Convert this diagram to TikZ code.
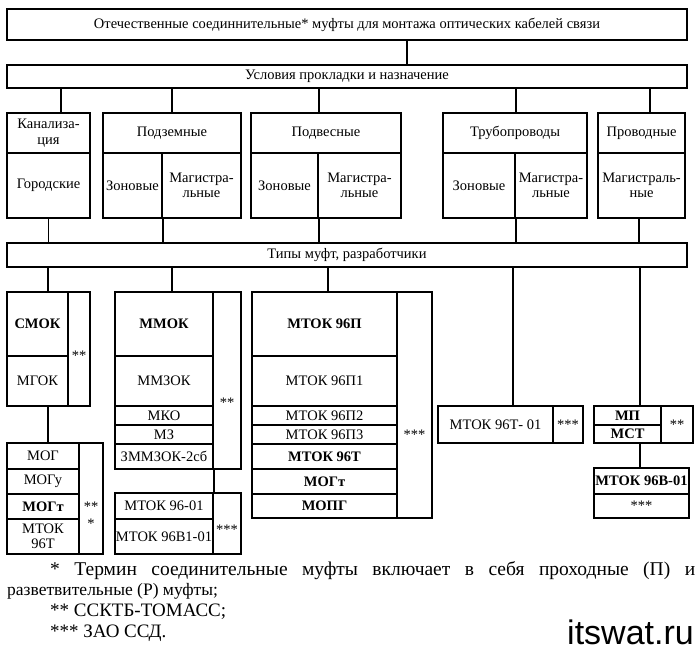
\documentclass[tikz,border=0pt]{standalone}
\usepackage{fontspec}
\setmainfont{Liberation Serif}
\newfontfamily\marksans{Liberation Sans}

\begin{document}
\begin{tikzpicture}[x=1pt, y=-1pt,
    cell/.style={draw, line width=2pt, inner sep=0pt, align=center,
      font=\fontsize{14.5}{15.5}\selectfont},
    stars/.style={inner sep=0pt, align=center, font=\fontsize{14.5}{17}\selectfont},
    link/.style={line width=1.2pt}]
  \useasboundingbox (0,0) rectangle (700,650);

  % top bars
  \node[cell, minimum width=680, minimum height=31] (title) at (347,24.5)
  {Отечественные соединнительные* муфты для монтажа оптических кабелей связи};
  \node[cell, minimum width=680, minimum height=23] (cond) at (347,76.5)
  {Условия прокладки и назначение};
  \draw[link] ([xshift=60]title.south) -- ([xshift=60]title.south |- cond.north);

  % laying conditions
  \node[cell, minimum width=83, minimum height=40] (kanh) at (48.5,133) {Канализа-\\ция};
  \node[cell, minimum width=83, minimum height=65] (kanb) at (48.5,185.5) {Городские};
  \node[cell, minimum width=138, minimum height=40] (podzh) at (172,133) {Подземные};
  \node[cell, minimum width=59, minimum height=65] (podz1) at (132.5,185.5) {Зоновые};
  \node[cell, minimum width=79, minimum height=65] (podz2) at (201.5,185.5) {Магистра-\\льные};
  \node[cell, minimum width=150, minimum height=40] (podvh) at (326,133) {Подвесные};
  \node[cell, minimum width=67, minimum height=65] (podv1) at (284.5,185.5) {Зоновые};
  \node[cell, minimum width=83, minimum height=65] (podv2) at (359.5,185.5) {Магистра-\\льные};
  \node[cell, minimum width=144, minimum height=40] (trubh) at (515,133) {Трубопроводы};
  \node[cell, minimum width=72, minimum height=65] (trub1) at (479,185.5) {Зоновые};
  \node[cell, minimum width=72, minimum height=65] (trub2) at (551,185.5) {Магистра-\\льные};
  \node[cell, minimum width=87, minimum height=40] (provh) at (641.5,133) {Проводные};
  \node[cell, minimum width=87, minimum height=65] (provb) at (641.5,185.5) {Магистраль-\\ные};

  \draw[link] ([xshift=12.5]kanh.north) -- ([xshift=12.5]kanh.north |- cond.south);
  \draw[link] (podzh.north) -- (podzh.north |- cond.south);
  \draw[link] (podv1.east |- podvh.north) -- (podv1.east |- cond.south);
  \draw[link] (trub1.east |- trubh.north) -- (trub1.east |- cond.south);
  \draw[link] ([xshift=8.5]provh.north) -- ([xshift=8.5]provh.north |- cond.south);

  % types bar
  \node[cell, minimum width=680, minimum height=24] (types) at (347,255)
  {Типы муфт, разработчики};
  \draw[link] (kanb.south) -- (kanb.south |- types.north);
  \draw[link] (podz1.south east) -- (podz1.south east |- types.north);
  \draw[link] (podv1.south east) -- (podv1.south east |- types.north);
  \draw[link] (trub1.south east) -- (trub1.south east |- types.north);
  \draw[link] ([xshift=-2.5]provb.south) -- ([xshift=-2.5]provb.south |- types.north);

  % CCKTB groups
  \node[cell, minimum width=61, minimum height=64] (smok) at (37.5,324) {\bfseries СМОК};
  \node[cell, minimum width=61, minimum height=50] (mgok) at (37.5,381) {МГОК};
  \node[cell, minimum width=22, minimum height=114] (st1) at (79,349) {};
  \node[stars] (st1t) at (79,356) {**};

  \node[cell, minimum width=72, minimum height=26] (mog) at (43,456) {МОГ};
  \node[cell, minimum width=72, minimum height=25] (mogu) at (43,481.5) {МОГу};
  \node[cell, minimum width=72, minimum height=25] (mogt) at (43,506.5) {\bfseries МОГт};
  \node[cell, minimum width=72, minimum height=35] (mtokt) at (43,536.5) {МТОК\\96Т};
  \node[cell, minimum width=24, minimum height=111] (st2) at (91,498.5) {};
  \node[stars] (st2t) at (91,515) {**\\*};

  \node[cell, minimum width=98, minimum height=64] (mmok) at (164,324) {\bfseries ММОК};
  \node[cell, minimum width=98, minimum height=50] (mmzok) at (164,381) {ММЗОК};
  \node[cell, minimum width=98, minimum height=19] (mko) at (164,415.5) {МКО};
  \node[cell, minimum width=98, minimum height=19] (mz) at (164,434.5) {МЗ};
  \node[cell, minimum width=98, minimum height=25] (zmmzok) at (164,456.5) {ЗММЗОК-2сб};
  \node[cell, minimum width=28, minimum height=177] (st3) at (227,380.5) {};
  \node[stars] (st3t) at (227,403) {**};

  % SSD groups
  \node[cell, minimum width=98, minimum height=26] (mtok01) at (164,506) {МТОК 96-01};
  \node[cell, minimum width=98, minimum height=35] (mtokb01) at (164,536.5) {МТОК 96В1-01};
  \node[cell, minimum width=28, minimum height=61] (st4) at (227,523.5) {};
  \node[stars] (st4t) at (227,530) {***};

  \node[cell, minimum width=145, minimum height=64] (mtokp) at (324.5,324) {\bfseries МТОК 96П};
  \node[cell, minimum width=145, minimum height=50] (mtokp1) at (324.5,381) {МТОК 96П1};
  \node[cell, minimum width=145, minimum height=19] (mtokp2) at (324.5,415.5) {МТОК 96П2};
  \node[cell, minimum width=145, minimum height=19] (mtokp3) at (324.5,434.5) {МТОК 96П3};
  \node[cell, minimum width=145, minimum height=25] (mtokt2) at (324.5,456.5) {\bfseries МТОК 96Т};
  \node[cell, minimum width=145, minimum height=25] (mogt2) at (324.5,481.5) {\bfseries МОГт};
  \node[cell, minimum width=145, minimum height=24] (mopg) at (324.5,506) {\bfseries МОПГ};
  \node[cell, minimum width=35, minimum height=226] (st5) at (414.5,405) {};
  \node[stars] (st5t) at (414.5,435) {***};

  \node[cell, minimum width=115, minimum height=37] (mtokt01) at (495.5,424.5) {МТОК 96Т- 01};
  \node[cell, minimum width=30, minimum height=37] (st6) at (568,424.5) {***};

  \node[cell, minimum width=67, minimum height=19] (mp) at (627.5,415.5) {\bfseries МП};
  \node[cell, minimum width=67, minimum height=18] (mst) at (627.5,434) {\bfseries МСТ};
  \node[cell, minimum width=32, minimum height=37] (st7) at (677,424.5) {**};
  \node[cell, minimum width=95, minimum height=26] (mtokv01) at (641.5,481) {\bfseries МТОК 96В-01};
  \node[cell, minimum width=95, minimum height=24] (st8) at (641.5,506) {***};

  \draw[link] ([xshift=10.5]smok.north) -- ([xshift=10.5]smok.north |- types.south);
  \draw[link] ([xshift=8]mmok.north) -- ([xshift=8]mmok.north |- types.south);
  \draw[link] ([xshift=3.5]mtokp.north) -- ([xshift=3.5]mtokp.north |- types.south);
  \draw[link] ([xshift=17.5]mtokt01.north) -- ([xshift=17.5]mtokt01.north |- types.south);
  \draw[link] ([xshift=12.5]mp.north) -- ([xshift=12.5]mp.north |- types.south);
  \draw[link] ([xshift=10.5]mgok.south) -- ([xshift=10.5]mgok.south |- mog.north);
  \draw[link] (zmmzok.south east) -- (mtok01.north east);
  \draw[link] ([xshift=12.5]mst.south) -- ([xshift=12.5]mst.south |- mtokv01.north);

  % notes
  \node[inner sep=0pt, anchor=north west, text width=688pt, align=justify,
    font=\fontsize{17.5}{20.7}\selectfont] (notes) at (7,561)
  {{\fontsize{19.5}{20.7}\selectfont\hspace*{43pt}* Термин соединительные муфты включает в себя проходные (П) и\linebreak}
   {\fontsize{17.5}{20.7}\selectfont разветвительные (Р) муфты;}\\
   {\fontsize{19}{20.7}\selectfont\hspace*{43pt}** ССКТБ-ТОМАСС;}\\
   {\fontsize{19}{20.7}\selectfont\hspace*{43pt}*** ЗАО ССД.}};
  \node[inner sep=0pt, anchor=base east, font=\marksans\fontsize{34}{34}\selectfont]
    (site) at (694,644) {itswat.ru};
\end{tikzpicture}
\end{document}
